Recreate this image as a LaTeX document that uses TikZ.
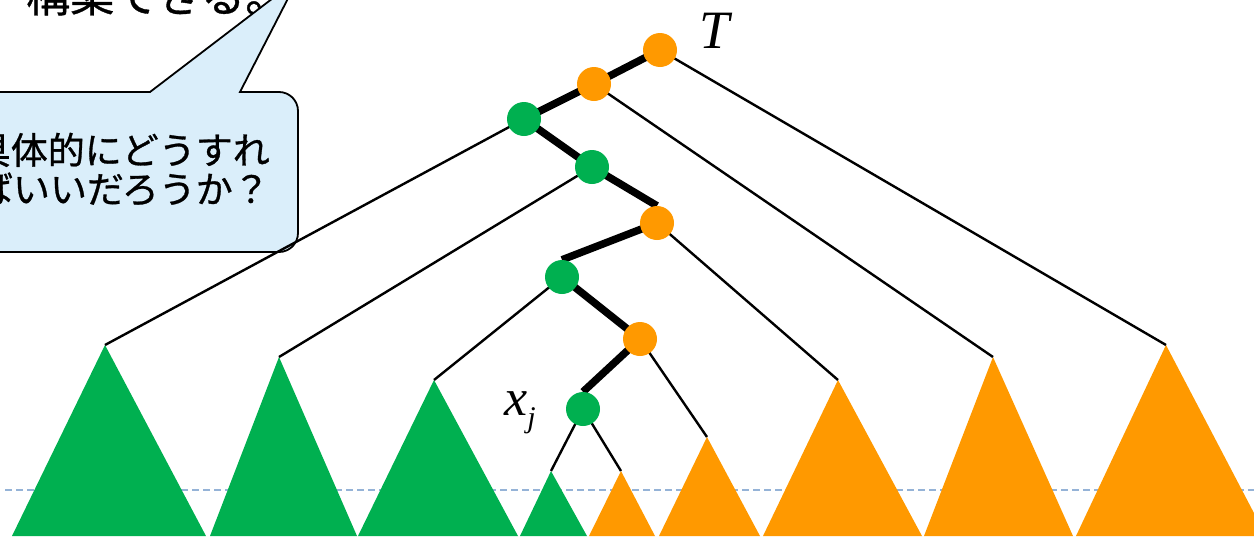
\documentclass[tikz,border=0pt]{standalone}
\usepackage{fontspec}
\setmainfont{Liberation Serif}
\newfontfamily\jp[FakeBold=0.8]{Noto Sans CJK JP}
\definecolor{gr}{RGB}{0,176,80}
\definecolor{og}{RGB}{255,153,0}
\definecolor{callbg}{RGB}{218,238,250}
\definecolor{dashc}{RGB}{149,179,215}
\pgfdeclarelayer{bg}
\pgfdeclarelayer{edges}
\pgfsetlayers{bg,edges,main}
\begin{document}
\begin{tikzpicture}[x=1pt,y=-1pt,
  gnode/.style={circle,fill=gr,minimum size=34pt,inner sep=0pt},
  onode/.style={circle,fill=og,minimum size=34pt,inner sep=0pt},
  tedge/.style={line width=2.4pt,black},
  Tedge/.style={line width=7.5pt,black},
  gtri/.style={fill=gr},
  otri/.style={fill=og},
  jptext/.style={inner sep=0pt,font=\jp\fontsize{37}{37}\selectfont}]
\useasboundingbox (0,0) rectangle (1254,536);

% tree nodes
\node[onode] (o1) at (660,50) {};
\node[onode] (o2) at (594,84) {};
\node[gnode] (g1) at (524,119) {};
\node[gnode] (g2) at (592,167) {};
\node[onode] (o3) at (657,223) {};
\node[gnode] (g3) at (562,277) {};
\node[onode] (o4) at (640,339) {};
\node[gnode] (g4) at (583,409) {};

% labels
\node[inner sep=0pt,font=\fontsize{54}{54}\selectfont\itshape] (Tlab) at (715,31) {T};
\node[anchor=base west,inner sep=0pt,font=\fontsize{52}{52}\selectfont\itshape] (xj) at (504,415) {x\raisebox{-12pt}{\fontsize{30}{30}\selectfont j}};

% triangle apexes
\coordinate (a1) at (105,345);
\coordinate (a2) at (279,357);
\coordinate (a3) at (434,380);
\coordinate (a4) at (551,471);
\coordinate (a5) at (621,471);
\coordinate (a6) at (707,437);
\coordinate (a7) at (838,380);
\coordinate (a8) at (993,357);
\coordinate (a9) at (1166,345);

\begin{pgfonlayer}{bg}
  % top text
  \node[anchor=base west,inner sep=0pt,font=\jp\fontsize{44}{44}\selectfont] (toptxt) at (26,12) {構築できる。};
  % callout
  \draw[line width=1.8pt,fill=callbg] (-40,92) -- (150,92) -- (298,-21) -- (240,92) -- (270,92)
     [rounded corners=19pt] -- (298,92) -- (298,252) -- (-40,252) -- cycle;
  \node[jptext,anchor=base east] (cl1) at (270,164) {具体的にどうすれ};
  \node[jptext,anchor=base east] (cl2) at (270,203) {ばいいだろうか？};
  % dashed guide
  \draw[dashc,line width=1.5pt,dash pattern=on 7pt off 4pt] (5,490) -- (1254,490);
  % subtrees
  \fill[gtri] (a1) -- (12,536) -- (206,536) -- cycle;
  \fill[gtri] (a2) -- (210,536) -- (357,536) -- cycle;
  \fill[gtri] (a3) -- (358,536) -- (518,536) -- cycle;
  \fill[gtri] (a4) -- (520,536) -- (587,536) -- cycle;
  \fill[otri] (a5) -- (589,536) -- (655,536) -- cycle;
  \fill[otri] (a6) -- (659,536) -- (760,536) -- cycle;
  \fill[otri] (a7) -- (763,536) -- (922,536) -- cycle;
  \fill[otri] (a8) -- (924,536) -- (1073,536) -- cycle;
  \fill[otri] (a9) -- (1076,536) -- (1266,536) -- cycle;
\end{pgfonlayer}

\begin{pgfonlayer}{edges}
  \draw[tedge] (o1.center) -- (a9);
  \draw[tedge] (o2.center) -- (a8);
  \draw[tedge] (g1.center) -- (a1);
  \draw[tedge] (g2.center) -- (a2);
  \draw[tedge] (o3.center) -- (a7);
  \draw[tedge] (g3.center) -- (a3);
  \draw[tedge] (o4.center) -- (a6);
  \draw[tedge] (g4.center) -- (a4);
  \draw[tedge] (g4.center) -- (a5);
  \draw[Tedge] (o1.center) -- (o2.center);
  \draw[Tedge] (o2.center) -- (g1.center);
  \draw[Tedge] (g1.center) -- (g2.center);
  \draw[Tedge] (g2.center) -- (o3.north);
  \draw[Tedge] (o3.center) -- (g3.north);
  \draw[Tedge] (g3.center) -- (o4.center);
  \draw[Tedge] (o4.center) -- (g4.north);
\end{pgfonlayer}
\end{tikzpicture}
\end{document}
